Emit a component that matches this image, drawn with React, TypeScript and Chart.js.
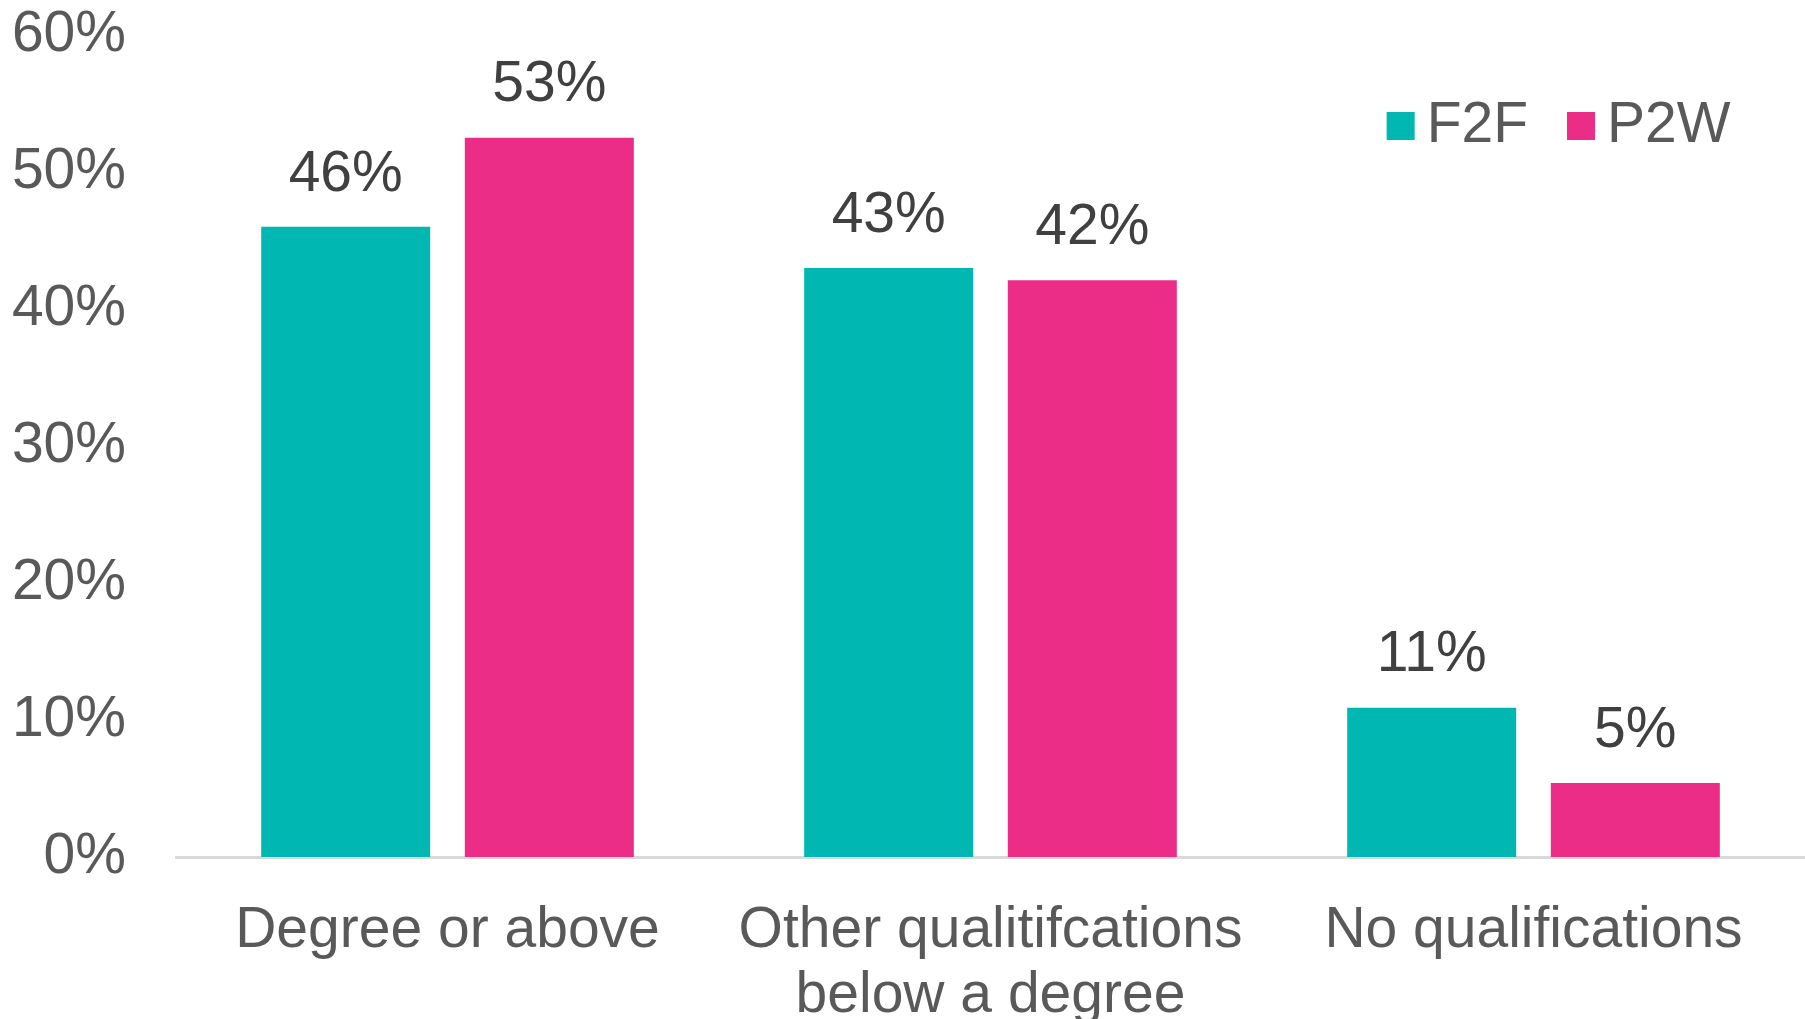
import React, { useEffect, useRef } from 'react';
import { Chart, registerables } from 'chart.js';

Chart.register(...registerables);

const FONT = "'Liberation Sans', Arial, Helvetica, sans-serif";

const categories: (string | string[])[] = [
  'Degree or above',
  ['Other qualitifcations', 'below a degree'],
  'No qualifications',
];
const seriesNames = ['F2F', 'P2W'];
const f2fValues = [46, 43, 10.9];
const p2wValues = [52.5, 42.1, 5.4];
const seriesColors = ['#00B7B2', '#EC2D88'];
const yMin = 0;
const yMax = 60;
const yStep = 10;

const TICK_COLOR = '#595959';
const LABEL_COLOR = '#404040';

const dataLabelPlugin = {
  id: 'dataLabels',
  afterDatasetsDraw(chart: any) {
    const ctx = chart.ctx;
    ctx.save();
    ctx.font = `57px ${FONT}`;
    ctx.fillStyle = LABEL_COLOR;
    ctx.textAlign = 'center';
    ctx.textBaseline = 'middle';
    chart.data.datasets.forEach((ds: any, i: number) => {
      const meta = chart.getDatasetMeta(i);
      meta.data.forEach((bar: any, j: number) => {
        const v = ds.data[j] as number;
        ctx.fillText(Math.round(v) + '%', bar.x, bar.y - 52);
      });
    });
    ctx.restore();
  },
};

const legendPlugin = {
  id: 'customLegend',
  afterDraw(chart: any) {
    const ctx = chart.ctx;
    ctx.save();
    ctx.font = `57px ${FONT}`;
    ctx.textBaseline = 'middle';
    ctx.textAlign = 'left';
    const box = 28;
    const gap = 12;
    const itemGap = 39;
    const items = chart.data.datasets.map((ds: any) => ({
      text: ds.label as string,
      color: ds.backgroundColor as string,
      w: ctx.measureText(ds.label).width,
    }));
    const total =
      items.reduce((s: number, it: any) => s + box + gap + it.w, 0) +
      itemGap * (items.length - 1);
    let x = chart.chartArea.right - 74.5 - total;
    const cy = 126;
    items.forEach((it: any) => {
      ctx.fillStyle = it.color;
      ctx.fillRect(x, cy - box / 2, box, box);
      x += box + gap;
      ctx.fillStyle = TICK_COLOR;
      ctx.fillText(it.text, x, cy);
      x += it.w + itemGap;
    });
    ctx.restore();
  },
};

export default function App() {
  const canvasRef = useRef<HTMLCanvasElement | null>(null);

  useEffect(() => {
    if (!canvasRef.current) return;
    const chart = new Chart(canvasRef.current, {
      type: 'bar',
      data: {
        labels: categories as any,
        datasets: [
          {
            label: seriesNames[0],
            data: f2fValues,
            backgroundColor: seriesColors[0],
            categoryPercentage: 0.75,
            barPercentage: 0.83,
          },
          {
            label: seriesNames[1],
            data: p2wValues,
            backgroundColor: seriesColors[1],
            categoryPercentage: 0.75,
            barPercentage: 0.83,
          },
        ],
      },
      options: {
        responsive: false,
        animation: false,
        devicePixelRatio: 1,
        layout: { padding: { top: 35, right: 0, bottom: 0, left: 0 } },
        plugins: {
          legend: { display: false },
          tooltip: { enabled: false },
        },
        scales: {
          x: {
            grid: { display: false },
            border: { display: true, color: '#D9D9D9', width: 3 },
            ticks: {
              color: TICK_COLOR,
              font: { family: FONT, size: 57, lineHeight: 1.135 },
              padding: 34,
              maxRotation: 0,
              autoSkip: false,
            },
            afterFit(scale: any) {
              scale.height = 162;
              scale.paddingLeft = 0;
              scale.paddingRight = 0;
            },
          },
          y: {
            min: yMin,
            max: yMax,
            grid: { display: false, drawTicks: false },
            border: { display: false },
            ticks: {
              stepSize: yStep,
              color: TICK_COLOR,
              font: { family: FONT, size: 57 },
              padding: 50,
              callback: (v: any) => v + '%',
            },
            afterFit(scale: any) {
              scale.width = 176;
              scale.paddingTop = 0;
              scale.paddingBottom = 0;
            },
          },
        },
      },
      plugins: [dataLabelPlugin, legendPlugin],
    });
    return () => chart.destroy();
  }, []);

  return (
    <div style={{ position: 'absolute', left: 0, top: 0, width: 1805, height: 1019, background: '#fff' }}>
      <canvas ref={canvasRef} width={1805} height={1019} style={{ display: 'block' }} />
    </div>
  );
}
